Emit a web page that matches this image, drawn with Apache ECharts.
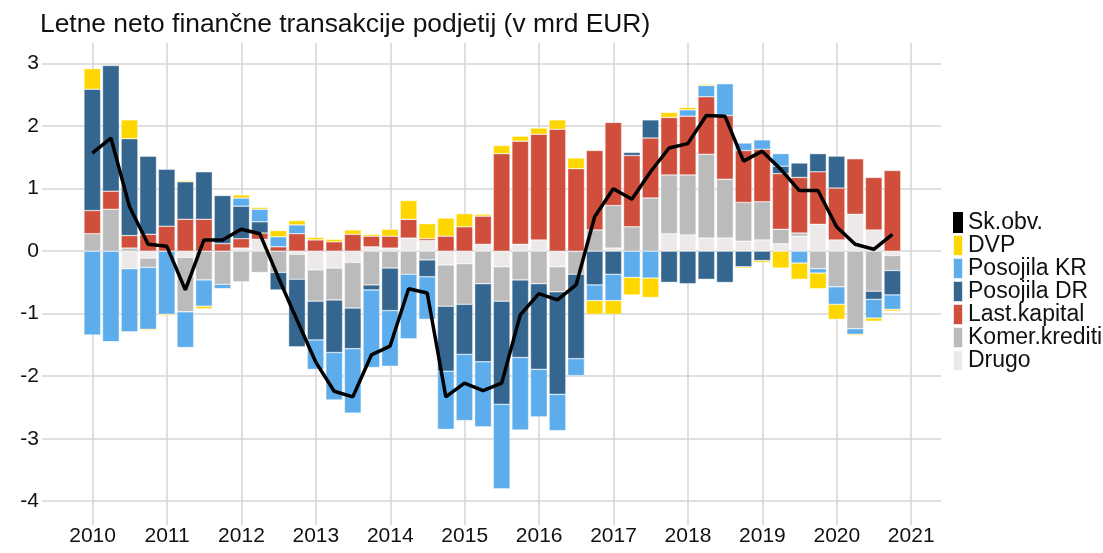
<!DOCTYPE html>
<html>
<head>
<meta charset="utf-8">
<title>Letne neto finančne transakcije podjetij</title>
<script src="https://cdn.jsdelivr.net/npm/echarts@6/dist/echarts.min.js"></script>
<style>
  html, body { margin: 0; padding: 0; background: #fff; }
  #chart { width: 1103px; height: 553px; }
</style>
</head>
<body>
<div id="chart"></div>
<script>
// quarters 2010Q1 .. 2020Q4
const years = [2010, 2011, 2012, 2013, 2014, 2015, 2016, 2017, 2018, 2019, 2020];
const quarters = [];
years.forEach(function (y) {
  ["Q1", "Q2", "Q3", "Q4"].forEach(function (q) { quarters.push(y + q); });
});

// v mrd EUR
const drugo = [0, 0, -0.28, -0.11, 0, -0.1, 0, 0, 0.05, 0.19, 0, -0.05,
  -0.3, -0.27, -0.18, 0.07, 0.05, 0.21, 0.17, -0.22, -0.2, 0.11, -0.25, 0.11,
  0.18, -0.25, 0, 0, 0.05, 0, 0, 0.28, 0.26, 0.21, 0.21, 0.16,
  0.18, 0.12, 0.24, 0.43, 0.18, 0.59, 0.34, -0.07];
const komer = [0.28, 0.67, 0.05, -0.15, 0, -0.87, -0.46, -0.53, -0.49, -0.34, -0.34, -0.4,
  -0.5, -0.51, -0.73, -0.54, -0.27, -0.37, -0.14, -0.66, -0.65, -0.52, -0.55, -0.46,
  -0.52, -0.4, -0.37, 0.34, 0.68, 0.39, 0.85, 0.94, 0.96, 1.34, 0.94, 0.62,
  0.61, 0.23, 0.05, -0.28, -0.57, -1.24, -0.64, -0.24];
const kapital = [0.37, 0.29, 0.2, 0.27, 0.4, 0.51, 0.51, 0.12, 0.15, 0.1, 0.07, 0.28,
  0.18, 0.15, 0.27, 0.17, 0.19, 0.3, 0.03, 0.24, 0.39, 0.45, 1.56, 1.65,
  1.69, 1.95, 1.32, 1.27, 1.33, 1.14, 0.96, 0.92, 0.94, 0.92, 1.02, 0.83,
  0.84, 0.89, 0.89, 0.84, 0.83, 0.89, 0.84, 1.29];
const posojilaDR = [1.94, 2.01, 1.55, 1.25, 0.91, 0.6, 0.76, 0.77, 0.52, 0.18, -0.28, -1.08,
  -0.62, -0.84, -0.65, -0.08, -0.68, 0, -0.27, -1.04, -0.8, -1.25, -1.65, -1.24,
  -1.37, -1.64, -1.35, -0.54, -0.37, 0.05, 0.29, -0.5, -0.52, -0.45, -0.5, -0.25,
  -0.15, 0.12, 0.23, 0.29, 0.51, 0, -0.13, -0.39];
const posojilaKR = [-1.34, -1.45, -1.01, -0.99, -1.01, -0.57, -0.42, -0.07, 0.13, 0.2, 0.16, 0.14,
  -0.47, -0.76, -1.03, -1.24, -0.89, -1.03, -0.68, -0.93, -1.06, -1.04, -1.35, -1.16,
  -0.76, -0.58, -0.27, -0.25, -0.42, -0.42, -0.43, 0, 0.1, 0.18, 0.51, 0.12,
  0.15, 0.2, -0.19, -0.07, -0.28, -0.09, -0.3, -0.23];
const dvp = [0.33, 0, 0.3, -0.02, -0.02, 0.02, -0.04, -0.01, 0.05, 0.03, 0.1, 0.07,
  0.04, 0.04, 0.07, 0.03, 0.11, 0.3, 0.24, 0.29, 0.21, 0.03, 0.13, 0.08,
  0.1, 0.15, 0.17, -0.22, -0.22, -0.28, -0.31, 0.08, 0.04, 0.02, 0, -0.02,
  -0.03, -0.27, -0.26, -0.25, -0.24, -0.02, -0.05, -0.03];
const skupaj = [1.57, 1.81, 0.71, 0.11, 0.08, -0.62, 0.18, 0.18, 0.35, 0.28, -0.42, -1.1,
  -1.77, -2.24, -2.33, -1.66, -1.52, -0.6, -0.67, -2.33, -2.11, -2.23, -2.11, -1.02,
  -0.68, -0.78, -0.54, 0.55, 1.0, 0.83, 1.27, 1.65, 1.72, 2.17, 2.16, 1.44,
  1.6, 1.31, 0.97, 0.97, 0.39, 0.11, 0.03, 0.27];

const font = "'Liberation Sans', Arial, sans-serif";
const yMin = -4.38;
const yMax = 3.33;

function yearLabel(v) {
  return Math.abs(v - Math.round(v)) < 1e-6 ? String(Math.round(v)) : "";
}

function barSeries(name, arr, color) {
  return {
    name: name,
    type: "bar",
    stack: "sk",
    xAxisIndex: 1,
    yAxisIndex: 1,
    barWidth: 16.7,
    data: arr,
    itemStyle: {
      color: color,
      borderColor: "rgba(255,255,255,0.8)",
      borderWidth: 0.5,
    },
  };
}

const myChart = echarts.init(document.getElementById("chart"));
myChart.setOption({
  animation: false,
  backgroundColor: "#fff",
  title: {
    text: "Letne neto finančne transakcije podjetij (v mrd EUR)",
    left: 40,
    top: 12,
    padding: 0,
    textStyle: {
      fontFamily: font,
      fontSize: 26.4,
      fontWeight: "normal",
      color: "#111",
    },
  },
  legend: {
    orient: "vertical",
    left: 952,
    top: 211,
    padding: 0,
    itemGap: 0,
    itemWidth: 10,
    itemHeight: 21,
    icon: "rect",
    data: ["Sk.obv.", "DVP", "Posojila KR", "Posojila DR", "Last.kapital", "Komer.krediti", "Drugo"],
    textStyle: {
      fontFamily: font,
      fontSize: 23,
      lineHeight: 21,
      color: "#111",
    },
  },
  // grid 0: gridlines and labels, grid 1: quarterly bars
  grid: [
    { left: 42, right: 162, top: 43, bottom: 28, containLabel: false },
    { left: 83, right: 201.3, top: 43, bottom: 28, containLabel: false },
  ],
  xAxis: [
    {
      type: "value",
      gridIndex: 0,
      min: 2009.32,
      max: 2021.4,
      splitNumber: 12,
      axisLine: { show: false },
      axisTick: { show: false },
      axisLabel: {
        margin: 1,
        fontFamily: font,
        fontSize: 21,
        color: "#111",
        showMinLabel: false,
        showMaxLabel: false,
        formatter: yearLabel,
      },
      splitLine: {
        show: true,
        showMinLine: false,
        showMaxLine: false,
        lineStyle: { color: "#d4d4d4", width: 1.5 },
      },
    },
    {
      type: "category",
      gridIndex: 1,
      data: quarters,
      boundaryGap: true,
      show: false,
    },
  ],
  yAxis: [
    {
      type: "value",
      gridIndex: 0,
      min: yMin,
      max: yMax,
      splitNumber: 8,
      axisLine: { show: false },
      axisTick: { show: false },
      axisLabel: {
        margin: 3,
        fontFamily: font,
        fontSize: 21,
        color: "#111",
        showMinLabel: false,
        showMaxLabel: false,
        formatter: yearLabel,
      },
      splitLine: {
        show: true,
        showMinLine: false,
        showMaxLine: false,
        lineStyle: { color: "#d4d4d4", width: 1.5 },
      },
    },
    {
      type: "value",
      gridIndex: 1,
      min: yMin,
      max: yMax,
      show: false,
      splitLine: { show: false },
    },
  ],
  series: [
    barSeries("Drugo", drugo, "#ECE9E8"),
    barSeries("Komer.krediti", komer, "#BBBBBB"),
    barSeries("Last.kapital", kapital, "#D04F3C"),
    barSeries("Posojila DR", posojilaDR, "#35668F"),
    barSeries("Posojila KR", posojilaKR, "#5DADEC"),
    barSeries("DVP", dvp, "#FFD700"),
    {
      name: "Sk.obv.",
      type: "line",
      xAxisIndex: 1,
      yAxisIndex: 1,
      data: skupaj,
      symbol: "none",
      z: 5,
      itemStyle: { color: "#000" },
      lineStyle: { color: "#000", width: 3.5 },
    },
  ],
});
</script>
</body>
</html>
